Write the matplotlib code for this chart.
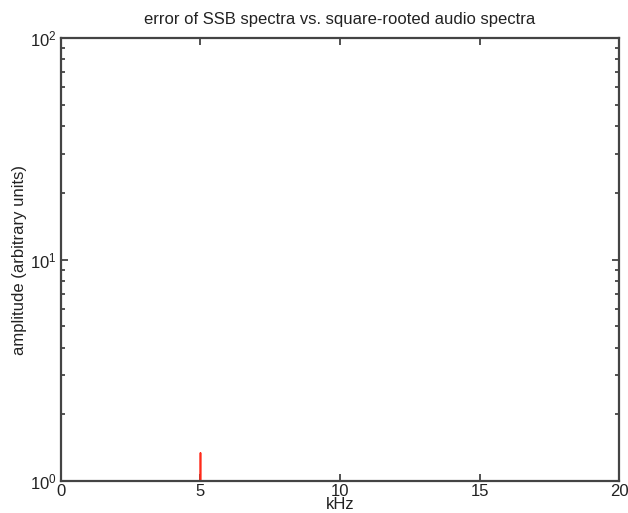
import matplotlib
matplotlib.use("Agg")
import matplotlib.pyplot as plt
import numpy as np

plt.rcParams['font.family'] = ['Liberation Sans', 'DejaVu Sans']
plt.rcParams['mathtext.fontset'] = 'custom'
plt.rcParams['mathtext.rm'] = 'Liberation Sans'

# error spectrum around the 5 kHz carrier (values below 1 fall off the log axis)
freq_khz = [4.96, 4.98, 4.99, 5.00, 5.01, 5.02, 5.04]
err_amp = [0.15, 0.35, 0.8, 1.34, 0.7, 0.3, 0.12]

xticks = [0, 5, 10, 15, 20]

fig = plt.figure(figsize=(6.28, 5.13), dpi=100)
ax = fig.add_axes([0.0971, 0.0624, 0.8886, 0.8635])

ax.plot(freq_khz, err_amp, color='#ff2a1a', lw=1.2)

ax.set_yscale('log')
ax.set_xlim(0, 20)
ax.set_ylim(1, 100)
ax.set_xticks(xticks)
ax.set_xticklabels([str(t) for t in xticks])

ax.tick_params(which='both', direction='in', top=True, right=True,
               colors='#333333', labelcolor='#222222', labelsize=12)
ax.tick_params(which='major', length=5, width=1.2)
ax.tick_params(which='minor', length=3, width=1.2)
ax.tick_params(axis='x', pad=2)
ax.tick_params(axis='y', pad=3)
for s in ax.spines.values():
    s.set_color('#444444')
    s.set_linewidth(1.6)

ax.set_title('error of SSB spectra vs. square-rooted audio spectra',
             fontsize=12, color='#222222', pad=10)
ax.set_xlabel('kHz', fontsize=12, color='#222222', labelpad=-1)
ax.set_ylabel('amplitude (arbitrary units)', fontsize=12, color='#222222', labelpad=2)

fig.savefig('out.png', dpi=100)
